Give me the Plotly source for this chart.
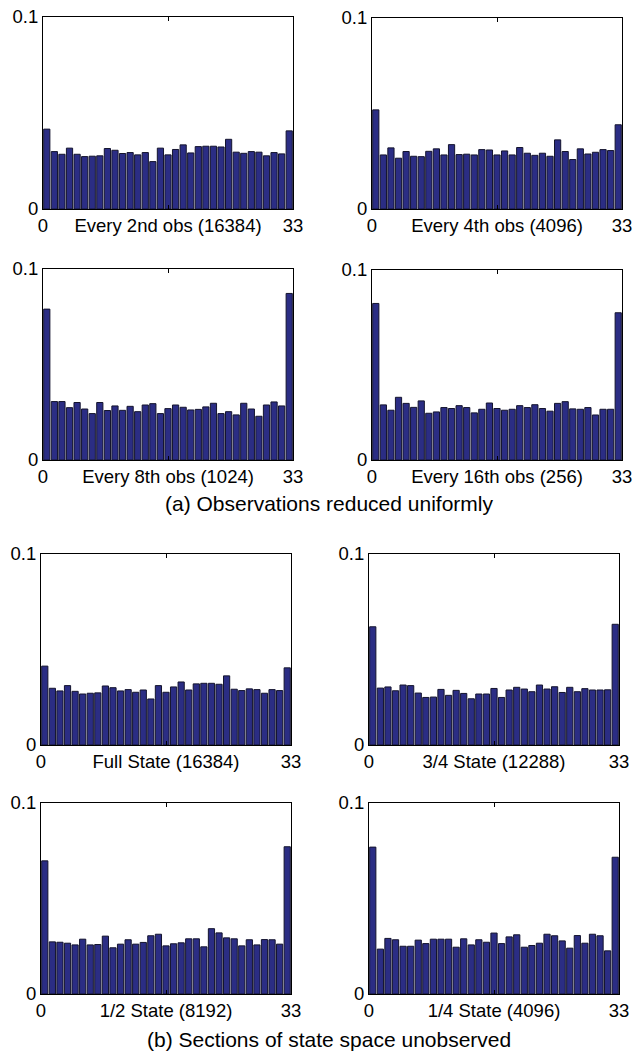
import plotly.graph_objects as go

# Rank histograms (relative frequency of each of the 33 rank bins)
every_2nd_obs = [0.0416, 0.0299, 0.0285, 0.0317, 0.0285, 0.0273, 0.0275, 0.0277, 0.0315, 0.0306,
                 0.0289, 0.0294, 0.0282, 0.0294, 0.0247, 0.0317, 0.0282, 0.0310, 0.0334, 0.0292,
                 0.0325, 0.0327, 0.0327, 0.0323, 0.0363, 0.0296, 0.0290, 0.0299, 0.0296, 0.0277,
                 0.0294, 0.0287, 0.0407]
every_4th_obs = [0.0519, 0.0283, 0.0320, 0.0266, 0.0301, 0.0276, 0.0274, 0.0302, 0.0315, 0.0283,
                 0.0337, 0.0285, 0.0287, 0.0283, 0.0311, 0.0309, 0.0283, 0.0304, 0.0283, 0.0322,
                 0.0292, 0.0281, 0.0292, 0.0276, 0.0362, 0.0301, 0.0259, 0.0315, 0.0288, 0.0297,
                 0.0311, 0.0306, 0.0441]
every_8th_obs = [0.0790, 0.0306, 0.0306, 0.0274, 0.0301, 0.0267, 0.0243, 0.0301, 0.0259, 0.0283,
                 0.0260, 0.0281, 0.0253, 0.0288, 0.0295, 0.0243, 0.0269, 0.0288, 0.0276, 0.0262,
                 0.0265, 0.0278, 0.0297, 0.0243, 0.0253, 0.0236, 0.0297, 0.0267, 0.0229, 0.0288,
                 0.0304, 0.0283, 0.0872]
every_16th_obs = [0.0824, 0.0290, 0.0262, 0.0330, 0.0298, 0.0277, 0.0311, 0.0246, 0.0253, 0.0276,
                  0.0271, 0.0286, 0.0276, 0.0248, 0.0267, 0.0300, 0.0271, 0.0262, 0.0267, 0.0286,
                  0.0276, 0.0291, 0.0271, 0.0257, 0.0298, 0.0307, 0.0269, 0.0267, 0.0276, 0.0237,
                  0.0267, 0.0267, 0.0775]
full_state = [0.0413, 0.0297, 0.0283, 0.0311, 0.0281, 0.0267, 0.0271, 0.0273, 0.0309, 0.0300,
              0.0283, 0.0290, 0.0276, 0.0288, 0.0241, 0.0311, 0.0276, 0.0304, 0.0330, 0.0288,
              0.0320, 0.0323, 0.0323, 0.0318, 0.0362, 0.0292, 0.0285, 0.0294, 0.0290, 0.0271,
              0.0290, 0.0285, 0.0404]
three_quarter_state = [0.0619, 0.0298, 0.0304, 0.0284, 0.0314, 0.0311, 0.0272, 0.0249, 0.0251, 0.0291,
                       0.0260, 0.0286, 0.0270, 0.0242, 0.0267, 0.0267, 0.0296, 0.0249, 0.0288, 0.0302,
                       0.0293, 0.0279, 0.0314, 0.0293, 0.0305, 0.0275, 0.0302, 0.0279, 0.0295, 0.0288,
                       0.0288, 0.0289, 0.0632]
half_state = [0.0697, 0.0273, 0.0271, 0.0266, 0.0257, 0.0287, 0.0257, 0.0259, 0.0303, 0.0242,
              0.0261, 0.0284, 0.0261, 0.0270, 0.0305, 0.0313, 0.0252, 0.0263, 0.0268, 0.0289,
              0.0289, 0.0247, 0.0342, 0.0320, 0.0294, 0.0289, 0.0252, 0.0284, 0.0257, 0.0285,
              0.0284, 0.0261, 0.0771]
quarter_state = [0.0769, 0.0235, 0.0291, 0.0284, 0.0250, 0.0250, 0.0282, 0.0264, 0.0287, 0.0287,
                 0.0287, 0.0245, 0.0289, 0.0257, 0.0284, 0.0271, 0.0319, 0.0264, 0.0299, 0.0310,
                 0.0245, 0.0254, 0.0266, 0.0313, 0.0305, 0.0278, 0.0240, 0.0306, 0.0266, 0.0313,
                 0.0305, 0.0226, 0.0716]

panel_labels = ["Every 2nd obs (16384)", "Every 4th obs (4096)",
                "Every 8th obs (1024)", "Every 16th obs (256)",
                "Full State (16384)", "3/4 State (12288)",
                "1/2 State (8192)", "1/4 State (4096)"]
panel_series = [every_2nd_obs, every_4th_obs, every_8th_obs, every_16th_obs,
                full_state, three_quarter_state, half_state, quarter_state]
captions = ["(a) Observations reduced uniformly", "(b) Sections of state space unobserved"]

n_bins = 33
bin_centres = [i + 0.5 for i in range(n_bins)]

W, H = 635, 1057
# pixel boxes (left, right, top, bottom) for each panel
boxes = [
    (43, 293, 17, 209), (372, 622, 18, 209),
    (43, 293, 269, 460), (372, 622, 270, 460),
    (41, 291, 554, 745), (369, 619, 554, 745),
    (41, 291, 803, 994), (369, 619, 803, 994),
]

FONT = "Liberation Sans, Arial, Helvetica, sans-serif"
fig = go.Figure()
layout = {}
for k, (vals, label, box) in enumerate(zip(panel_series, panel_labels, boxes)):
    idx = "" if k == 0 else str(k + 1)
    fig.add_trace(go.Bar(
        x=bin_centres, y=vals, xaxis="x" + idx, yaxis="y" + idx,
        marker=dict(color="#2b2d84", line=dict(color="#14142e", width=1)),
        showlegend=False, hoverinfo="skip",
    ))
    l, r, t, b = box
    layout["xaxis" + idx] = dict(
        domain=[l / W, r / W], anchor="y" + idx, range=[0, n_bins],
        tickmode="array", tickvals=[0, n_bins / 2, n_bins],
        ticktext=["0", label, str(n_bins)],
        ticks="inside", ticklen=4, tickcolor="black", tickwidth=1,
        showline=True, linecolor="black", linewidth=1, mirror="ticks",
        showgrid=False, zeroline=False, fixedrange=True, automargin=False,
        tickfont=dict(family=FONT, size=18.5, color="black"),
    )
    layout["yaxis" + idx] = dict(
        domain=[1 - b / H, 1 - t / H], anchor="x" + idx, range=[0, 0.1],
        tickmode="array", tickvals=[0, 0.1], ticktext=["0", "0.1"],
        ticks="inside", ticklen=4, tickcolor="black",
        showline=True, linecolor="black", linewidth=1, mirror="ticks",
        showgrid=False, zeroline=False, fixedrange=True, automargin=False,
        tickfont=dict(family=FONT, size=18.5, color="black"),
    )

fig.update_layout(
    width=W, height=H, margin=dict(l=0, r=0, t=0, b=0, autoexpand=False),
    paper_bgcolor="white", plot_bgcolor="white",
    bargap=0.18, font=dict(family=FONT, color="black"),
    annotations=[
        dict(text=captions[0], x=329 / W, y=1 - 503 / H, xref="paper", yref="paper",
             xanchor="center", yanchor="middle",
             showarrow=False, font=dict(family=FONT, size=21, color="black")),
        dict(text=captions[1], x=329 / W, y=1 - 1039 / H, xref="paper", yref="paper",
             xanchor="center", yanchor="middle",
             showarrow=False, font=dict(family=FONT, size=21, color="black")),
    ],
    **layout,
)

fig.write_html("out.html")
